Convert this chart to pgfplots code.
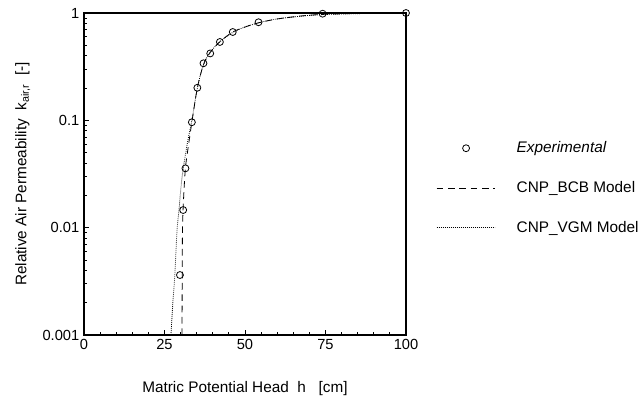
\documentclass[border=0pt]{standalone}
\usepackage{fontspec}
\setmainfont{Liberation Sans}
\usepackage{pgfplots}
\pgfplotsset{compat=1.18}
\begin{document}
\begin{tikzpicture}
\useasboundingbox (0pt,0pt) rectangle (483pt,306.75pt);
\begin{axis}[
  at={(63pt,55.5pt)}, anchor=south west,
  scale only axis, width=241.5pt, height=241.5pt,
  ymode=log, xmin=0, xmax=100, ymin=0.001, ymax=1,
  xtick={0,25,50,75,100}, minor x tick num=4,
  ytick={0.001,0.01,0.1,1}, yticklabels={0.001,0.01,0.1,1},
  xticklabels={0,25,50,75,100},
  tick pos=left, tick align=inside,
  major tick length=4pt, minor tick length=2.2pt,
  axis line style={line width=0.9pt},
  every tick/.style={black, line width=0.6pt},
  font=\fontsize{11pt}{13pt}\selectfont,
  /pgf/number format/assume math mode=true,
  xlabel={Matric Potential Head\ \ h\ \ \ [cm]},
  ylabel={Relative Air Permeability\ \ k\textsubscript{air,r}\ \ [-]},
  label style={font=\fontsize{11.5pt}{13pt}\selectfont},
  xlabel style={at={(axis description cs:0.5,-0.165)}, anchor=center},
  ylabel style={at={(axis description cs:-0.19,0.5)}, anchor=center},
  legend style={draw=none, at={(1.081,0.4565)}, anchor=west, font=\fontsize{11.5pt}{13pt}\selectfont,
    row sep=16pt},
  legend cell align=left, reverse legend,
]
\addplot[black, line width=0.6pt, dash pattern=on 0.6pt off 0.9pt, smooth,
  legend image code/.code={\path[draw=none] (0pt,0pt) -- (58pt,0pt); \draw[black, line width=0.6pt, dash pattern=on 0.6pt off 0.9pt] (0pt,0pt) -- (43.5pt,0pt);}]
  coordinates {(27,0.001) (27.6,0.002) (28.2,0.0036) (28.9,0.0095) (29.5,0.0146) (30.3,0.027) (31.3,0.044) (32.3,0.066) (33.5,0.1) (35.2,0.2) (37.1,0.33) (39.2,0.43) (42.2,0.54) (46.2,0.66) (50,0.74) (54.2,0.81) (60,0.88) (70,0.95) (80,0.98) (100,1)};
\addlegendentry{CNP\_VGM Model}
\addplot[black, line width=0.6pt, dash pattern=on 5pt off 3.5pt, smooth,
  legend image code/.code={\path[draw=none] (0pt,0pt) -- (58pt,0pt); \draw[black, line width=0.6pt, dash pattern=on 5pt off 3.5pt] (0pt,0pt) -- (43.5pt,0pt);}]
  coordinates {(30.45,0.001) (30.5,0.004) (30.6,0.01) (30.9,0.018) (31.5,0.036) (32.5,0.06) (33.5,0.096) (35.2,0.2) (37.1,0.33) (39.2,0.43) (42.2,0.54) (46.2,0.665) (50,0.74) (54.2,0.81) (60,0.88) (67,0.935) (74,0.97) (85,0.99) (100,1)};
\addlegendentry{CNP\_BCB Model}
\addplot[only marks, mark=o, mark size=2.6pt, mark options={fill=white, line width=0.6pt}, black,
  legend image code/.code={\path[draw=none] (0pt,0pt) -- (58pt,0pt); \draw[black, solid, fill=white, line width=0.6pt] (22pt,0pt) circle (2.6pt);}]
  coordinates {(29.8,0.00362) (30.8,0.0146) (31.5,0.0357) (33.5,0.096) (35.2,0.201) (37.1,0.34) (39.2,0.42) (42.2,0.537) (46.2,0.665) (54.2,0.82) (74.1,0.985) (100,1)};
\addlegendentry{\itshape Experimental}
\end{axis}
\end{tikzpicture}
\end{document}
